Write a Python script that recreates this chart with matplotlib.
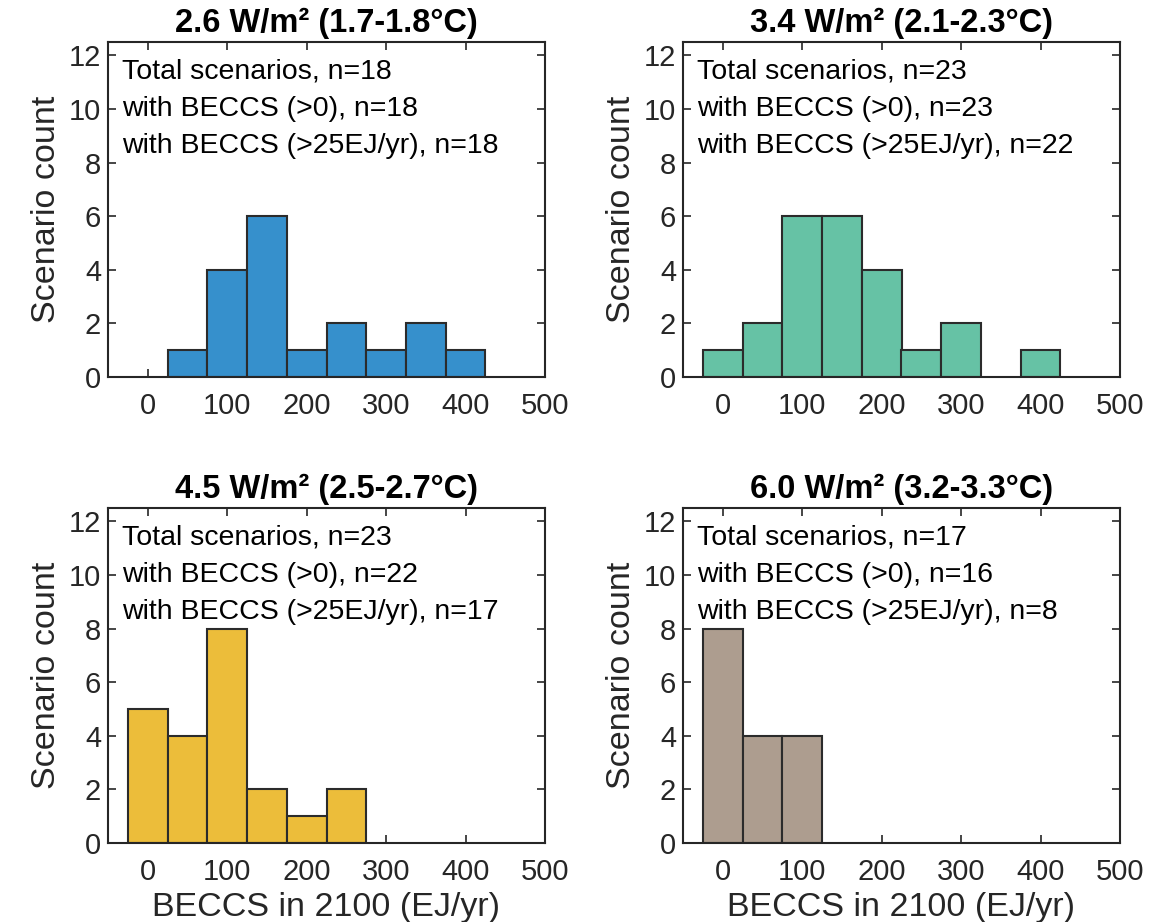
import numpy as np
import matplotlib
matplotlib.use("Agg")
import matplotlib.pyplot as plt

plt.rcParams['font.family'] = ['Liberation Sans', 'DejaVu Sans']

# histogram bins (EJ/yr) and counts per forcing level
bin_edges = [-25, 25, 75, 125, 175, 225, 275, 325, 375, 425]
counts_26 = [0, 1, 4, 6, 1, 2, 1, 2, 1]
counts_34 = [1, 2, 6, 6, 4, 1, 2, 0, 1]
counts_45 = [5, 4, 8, 2, 1, 2, 0, 0, 0]
counts_60 = [8, 4, 4, 0, 0, 0, 0, 0, 0]

titles = ["2.6 W/m² (1.7-1.8°C)", "3.4 W/m² (2.1-2.3°C)",
          "4.5 W/m² (2.5-2.7°C)", "6.0 W/m² (3.2-3.3°C)"]
n_total = [18, 23, 23, 17]
n_pos = [18, 23, 22, 16]
n_25 = [18, 22, 17, 8]
colors = ["#3690CC", "#66C2A5", "#ECBD3A", "#AD9D8F"]
all_counts = [counts_26, counts_34, counts_45, counts_60]

fig = plt.figure(figsize=(11.51, 9.22), dpi=100)
axes_pos = [
    [108/1151, 1-377/922, 437/1151, 335/922],
    [683/1151, 1-377/922, 437/1151, 335/922],
    [108/1151, 1-843/922, 437/1151, 335/922],
    [683/1151, 1-843/922, 437/1151, 335/922],
]
dark = "#262626"

for i in range(4):
    ax = fig.add_axes(axes_pos[i])
    counts = np.array(all_counts[i])
    edges = np.array(bin_edges)
    mask = counts > 0
    ax.bar(edges[:-1][mask], counts[mask], width=np.diff(edges)[mask], align='edge',
           color=colors[i], edgecolor="#2B2B2B", linewidth=1.5, zorder=2)
    ax.set_xlim(-50, 500)
    ax.set_ylim(0, 12.5)
    ax.set_xticks([0, 100, 200, 300, 400, 500])
    ax.set_yticks([0, 2, 4, 6, 8, 10, 12])
    ax.tick_params(direction='in', top=True, right=True, length=6, width=1.2,
                   labelsize=21, colors=dark)
    ax.tick_params(axis='x', pad=11)
    ax.tick_params(axis='y', pad=5)
    for s in ax.spines.values():
        s.set_linewidth(1.5)
        s.set_color(dark)
    ax.set_title(titles[i], fontsize=23.5, fontweight='bold', pad=7)
    ax.set_ylabel("Scenario count", fontsize=24.5, color=dark, labelpad=5)
    if i >= 2:
        ax.set_xlabel("BECCS in 2100 (EJ/yr)", fontsize=24.5, color=dark, labelpad=4)
    txt = (f"Total scenarios, n={n_total[i]}\n"
           f"with BECCS (>0), n={n_pos[i]}\n"
           f"with BECCS (>25EJ/yr), n={n_25[i]}")
    ax.text(0.032, 0.95, txt, transform=ax.transAxes, va='top', ha='left',
            fontsize=20.5, linespacing=1.55, color='black')

fig.savefig("out.png", dpi=100)
